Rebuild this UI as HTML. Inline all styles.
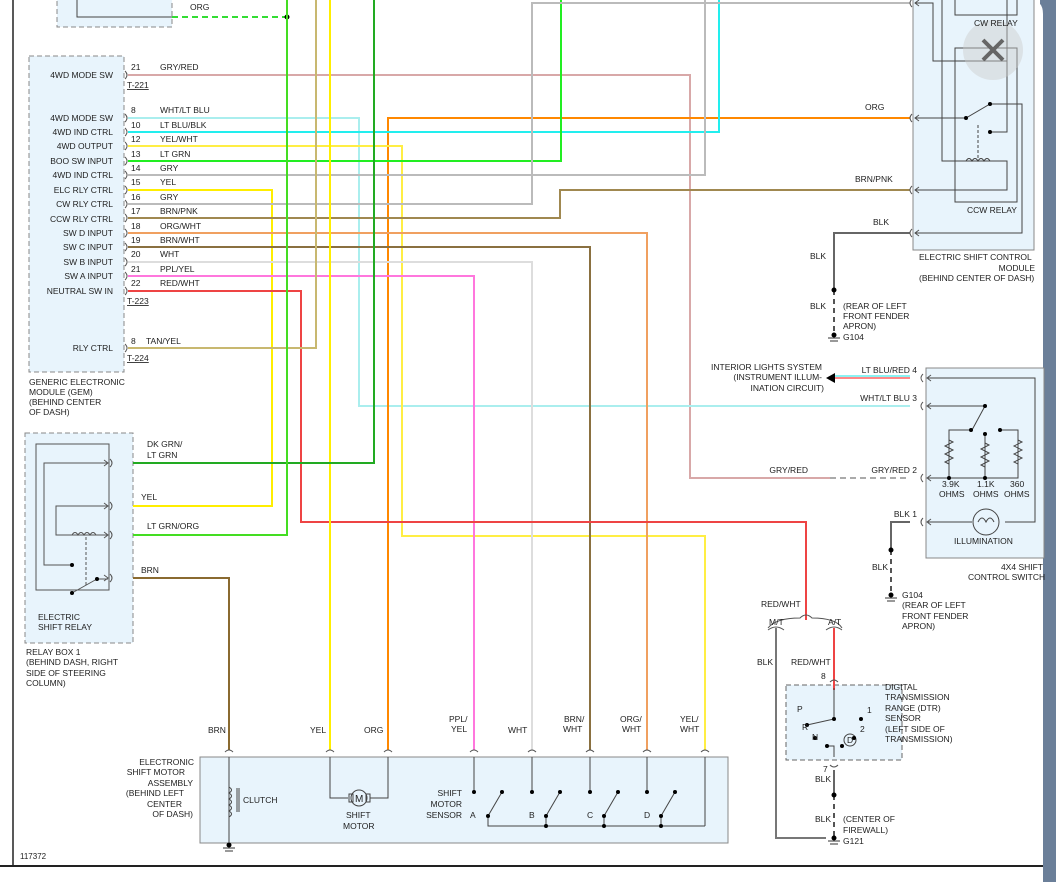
<!DOCTYPE html>
<html><head><meta charset="utf-8"><style>
html,body{margin:0;padding:0;background:#fff;}
svg{display:block;font-family:"Liberation Sans",sans-serif;font-size:8.5px;}
text{fill:#222;}
</style></head><body>
<svg width="1056" height="882" viewBox="0 0 1056 882" xmlns="http://www.w3.org/2000/svg">
<rect x="0" y="0" width="1056" height="882" fill="#fff"/>
<rect x="1040" y="0" width="16" height="882" fill="#6b7f99"/>
<path d="M1030 0 Q1043 0 1043 14 L1043 882 L1040 882 L1040 0Z" fill="#fff"/>
<line x1="13" y1="0" x2="13" y2="866" stroke="#222" stroke-width="1.5"/>
<line x1="0" y1="866" x2="1043" y2="866" stroke="#222" stroke-width="2"/>

<rect x="57" y="-2" width="115" height="29" fill="#e8f4fc" stroke="#888" stroke-dasharray="5,3"/>
<polyline points="77,-2 77,17 172,17" fill="none" stroke="#444"/>
<rect x="29" y="56" width="95" height="316" fill="#e8f4fc" stroke="#888" stroke-dasharray="5,3"/>
<rect x="25" y="433" width="108" height="210" fill="#e8f4fc" stroke="#888" stroke-dasharray="5,3"/>
<rect x="36" y="444" width="73" height="146" fill="none" stroke="#555"/>
<rect x="913" y="-2" width="121" height="252" fill="#e8f4fc" stroke="#888"/>
<rect x="926" y="368" width="118" height="190" fill="#e8f4fc" stroke="#888"/>
<rect x="200" y="757" width="528" height="86" fill="#e8f4fc" stroke="#888"/>
<rect x="786" y="685" width="116" height="75" fill="#e8f4fc" stroke="#666" stroke-dasharray="5,3"/>

<line x1="172" y1="17" x2="287" y2="17" stroke="#33dd33" stroke-width="2" stroke-dasharray="6,4"/>
<circle cx="287" cy="17" r="2.5" fill="#000"/>

<g fill="none" stroke-width="2">
<polyline points="128,75 690,75 690,478 830,478" stroke="#d8a8a8"/>
<line x1="830" y1="478" x2="910" y2="478" stroke="#aaa" stroke-dasharray="6,4"/>
<polyline points="128,118 359,118 359,406 910,406" stroke="#aaeeee"/>
<polyline points="388,750 388,118 910,118" stroke="#ff8800"/>
<polyline points="128,132 719,132 719,0" stroke="#22eeee"/>
<polyline points="128,146 402,146 402,536 705,536 705,750" stroke="#ffee44"/>
<polyline points="128,161 561,161 561,0" stroke="#22ee22"/>
<polyline points="128,175 705,175 705,0" stroke="#bbb"/>
<polyline points="128,190 272,190 272,506 133,506" stroke="#ffee00"/>
<polyline points="128,204 532,204 532,3 910,3" stroke="#bbb"/>
<polyline points="128,218 560,218 560,190 910,190" stroke="#a08850"/>
<polyline points="128,233 647,233 647,750" stroke="#f0a060"/>
<polyline points="128,247 590,247 590,750" stroke="#8a7040"/>
<polyline points="128,262 532,262 532,750" stroke="#dddddd"/>
<polyline points="128,276 474,276 474,750" stroke="#ff77dd"/>
<polyline points="128,291 301,291 301,522 806,522 806,620" stroke="#ee4444"/>
<polyline points="128,348 316,348 316,0" stroke="#c8b870"/>
<line x1="330" y1="0" x2="330" y2="750" stroke="#ffee00"/>
<polyline points="133,463 374,463 374,0" stroke="#22aa22"/>
<polyline points="133,535 287,535 287,0" stroke="#44dd22"/>
<polyline points="133,578 229,578 229,750" stroke="#8a6a30"/>
<line x1="835" y1="378" x2="910" y2="378" stroke="#ff8888"/>
<line x1="835" y1="376" x2="910" y2="376" stroke="#66eeee" stroke-width="1.5"/>
<polyline points="910,233 834,233 834,290" stroke="#666"/>
<polyline points="910,522 891,522 891,550" stroke="#666"/>
<polyline points="834,628 834,690" stroke="#ee4444"/>
<polyline points="834,770 834,795" stroke="#666"/>
<polyline points="776,628 776,838 826,838" stroke="#777"/>
</g>
<g stroke="#555" stroke-width="2" stroke-dasharray="5,4" fill="none">
<line x1="834" y1="290" x2="834" y2="335"/>
<line x1="891" y1="550" x2="891" y2="595"/>
<line x1="834" y1="795" x2="834" y2="836"/>
</g>
<g fill="#000">
<circle cx="834" cy="290" r="2.5"/><circle cx="834" cy="335" r="2.5"/>
<circle cx="891" cy="550" r="2.5"/><circle cx="891" cy="595" r="2.5"/>
<circle cx="834" cy="795" r="2.5"/><circle cx="834" cy="838" r="2.5"/>
<circle cx="229" cy="845" r="2.5"/>
<path d="M826 378 L835 373 L835 383Z"/>
</g>
<g stroke="#333" stroke-width="1">
<line x1="828" y1="338" x2="840" y2="338"/><line x1="830" y1="341" x2="838" y2="341"/>
<line x1="885" y1="598" x2="897" y2="598"/><line x1="887" y1="601" x2="895" y2="601"/>
<line x1="828" y1="841" x2="840" y2="841"/><line x1="830" y1="844" x2="838" y2="844"/>
<line x1="223" y1="848" x2="235" y2="848"/><line x1="225" y1="851" x2="233" y2="851"/>
</g>

<path d="M768 628 Q776 618 800 618 Q806 612 812 618 Q836 618 842 628" fill="none" stroke="#555"/>
<path d="M768 630 Q776 624 784 630 M826 630 Q834 624 842 630" fill="none" stroke="#555"/>

<g fill="none" stroke="#555" stroke-width="1">
<path d="M125 71 q4 4 0 8 M125 114 q4 4 0 8 M125 128 q4 4 0 8 M125 142 q4 4 0 8 M125 157 q4 4 0 8 M125 171 q4 4 0 8 M125 186 q4 4 0 8 M125 200 q4 4 0 8 M125 214 q4 4 0 8 M125 229 q4 4 0 8 M125 243 q4 4 0 8 M125 258 q4 4 0 8 M125 272 q4 4 0 8 M125 287 q4 4 0 8 M125 344 q4 4 0 8"/>
<path d="M110 459 q4 4 0 8 M110 502 q4 4 0 8 M110 531 q4 4 0 8 M110 574 q4 4 0 8"/>
<path d="M104 460 l4 3 -4 3 M104 503 l4 3 -4 3 M104 532 l4 3 -4 3 M104 575 l4 3 -4 3"/>
<path d="M912 -1 q-4 4 0 8 M912 114 q-4 4 0 8 M912 186 q-4 4 0 8 M912 229 q-4 4 0 8"/>
<path d="M919 0 l-4 3 4 3 M919 115 l-4 3 4 3 M919 187 l-4 3 4 3 M919 230 l-4 3 4 3"/>
<path d="M923 374 q-4 4 0 8 M923 402 q-4 4 0 8 M923 474 q-4 4 0 8 M923 518 q-4 4 0 8"/>
<path d="M931 375 l-4 3 4 3 M931 403 l-4 3 4 3 M931 475 l-4 3 4 3 M931 519 l-4 3 4 3"/>
<path d="M225 752 q4 -4 8 0 M326 752 q4 -4 8 0 M384 752 q4 -4 8 0 M470 752 q4 -4 8 0 M528 752 q4 -4 8 0 M586 752 q4 -4 8 0 M643 752 q4 -4 8 0 M701 752 q4 -4 8 0"/>
<path d="M830 682 q4 -4 8 0 M830 765 q4 4 8 0"/>
</g>
<g fill="none" stroke="#555" stroke-width="1">
<polyline points="108,463 44,463 44,565 72,565"/>
<polyline points="108,506 56,506 56,535 108,535"/>
<path d="M72 535 q3 -5 6 0 q3 -5 6 0 q3 -5 6 0 q3 -5 6 0"/>
<line x1="86" y1="537" x2="86" y2="585" stroke-dasharray="3,2"/>
<line x1="72" y1="593" x2="97" y2="579"/><line x1="97" y1="579" x2="108" y2="579"/>
</g>
<circle cx="72" cy="565" r="2" fill="#000"/><circle cx="72" cy="593" r="2" fill="#000"/><circle cx="97" cy="579" r="2" fill="#000"/>
<g fill="none" stroke="#444" stroke-width="1">
<polyline points="915,3 933,3 933,61 1007,61"/>
<rect x="955" y="-2" width="62" height="17"/>
<rect x="955" y="48" width="62" height="154"/>
<polyline points="915,118 966,118 990,104 1022,104 1022,233 915,233"/>
<polyline points="990,132 1007,132 1007,0"/>
<polyline points="942,0 942,161 1007,161 1007,190 915,190"/>
<path d="M966 161 q3 -5 6 0 q3 -5 6 0 q3 -5 6 0 q3 -5 6 0"/>
<line x1="978" y1="125" x2="978" y2="158" stroke-dasharray="3,2"/>
</g>
<circle cx="966" cy="118" r="2" fill="#000"/><circle cx="990" cy="104" r="2" fill="#000"/><circle cx="990" cy="132" r="2" fill="#000"/>
<circle cx="993" cy="50" r="30" fill="#ccc" opacity="0.45"/>
<path d="M983 40 L1003 60 M1003 40 L983 60" stroke="#666" stroke-width="4"/>
<g fill="none" stroke="#444" stroke-width="1">
<polyline points="928,378 1035,378 1035,522 1005,522"/>
<polyline points="928,406 985,406 972,430"/>
<polyline points="928,478 1018,478 1018,430 1000,430"/>
<polyline points="971,430 949,430 949,478"/>
<line x1="985" y1="433" x2="985" y2="478"/>
<path d="M949 440 l4 2 -8 4 8 4 -8 4 8 4 -8 4 4 2 M985 443 l4 2 -8 4 8 4 -8 4 8 4 -8 4 4 2 M1018 440 l4 2 -8 4 8 4 -8 4 8 4 -8 4 4 2"/>
<line x1="928" y1="522" x2="972" y2="522"/>
<circle cx="986" cy="522" r="13"/>
<path d="M978 522 q4 -8 8 0 q4 -8 8 0"/>
</g>
<g fill="#000"><circle cx="985" cy="406" r="2"/><circle cx="971" cy="430" r="2"/><circle cx="985" cy="434" r="2"/><circle cx="1000" cy="430" r="2"/><circle cx="949" cy="478" r="2"/><circle cx="985" cy="478" r="2"/></g>
<g fill="none" stroke="#444" stroke-width="1">
<polyline points="834,688 834,719 807,725"/>
<polyline points="827,746 834,746 834,757"/>
<circle cx="850" cy="740" r="6"/>
</g>
<g fill="#000"><circle cx="834" cy="719" r="2"/><circle cx="807" cy="725" r="2"/><circle cx="815" cy="738" r="2"/><circle cx="827" cy="746" r="2"/><circle cx="842" cy="746" r="2"/><circle cx="854" cy="738" r="2"/><circle cx="861" cy="719" r="2"/></g>
<g fill="none" stroke="#444" stroke-width="1">
<line x1="229" y1="757" x2="229" y2="843"/>
<path d="M229 787 q5 3 0 6 q5 3 0 6 q5 3 0 6 q5 3 0 6 q5 3 0 6"/>
<line x1="237" y1="788" x2="237" y2="812"/><line x1="239" y1="788" x2="239" y2="812"/>
<polyline points="330,757 330,798 348,798"/><polyline points="370,798 388,798 388,757"/>
<circle cx="359" cy="798" r="8"/>
<rect x="349" y="794" width="4" height="8"/><rect x="366" y="794" width="4" height="8"/>
<line x1="474" y1="757" x2="474" y2="792"/><line x1="532" y1="757" x2="532" y2="792"/>
<line x1="590" y1="757" x2="590" y2="792"/><line x1="647" y1="757" x2="647" y2="792"/>
<line x1="705" y1="757" x2="705" y2="826"/>
<polyline points="488,816 488,826 705,826"/>
<line x1="488" y1="816" x2="502" y2="792"/><line x1="546" y1="816" x2="560" y2="792"/>
<line x1="604" y1="816" x2="618" y2="792"/><line x1="661" y1="816" x2="675" y2="792"/>
<line x1="546" y1="816" x2="546" y2="826"/><line x1="604" y1="816" x2="604" y2="826"/><line x1="661" y1="816" x2="661" y2="826"/>
</g>
<g fill="#000"><circle cx="474" cy="792" r="2"/><circle cx="532" cy="792" r="2"/><circle cx="590" cy="792" r="2"/><circle cx="647" cy="792" r="2"/>
<circle cx="488" cy="816" r="2"/><circle cx="502" cy="792" r="2"/><circle cx="546" cy="816" r="2"/><circle cx="560" cy="792" r="2"/><circle cx="604" cy="816" r="2"/><circle cx="618" cy="792" r="2"/><circle cx="661" cy="816" r="2"/><circle cx="675" cy="792" r="2"/>
<circle cx="546" cy="826" r="2"/><circle cx="604" cy="826" r="2"/><circle cx="661" cy="826" r="2"/></g>

<g>
<text x="190" y="10">ORG</text>
<g text-anchor="end">
<text x="113" y="78">4WD MODE SW</text>
<text x="113" y="121">4WD MODE SW</text>
<text x="113" y="135">4WD IND CTRL</text>
<text x="113" y="149">4WD OUTPUT</text>
<text x="113" y="164">BOO SW INPUT</text>
<text x="113" y="178">4WD IND CTRL</text>
<text x="113" y="193">ELC RLY CTRL</text>
<text x="113" y="207">CW RLY CTRL</text>
<text x="113" y="222">CCW RLY CTRL</text>
<text x="113" y="236">SW D INPUT</text>
<text x="113" y="250">SW C INPUT</text>
<text x="113" y="265">SW B INPUT</text>
<text x="113" y="279">SW A INPUT</text>
<text x="113" y="294">NEUTRAL SW IN</text>
<text x="113" y="351">RLY CTRL</text>
</g>
<text x="131" y="70">21</text><text x="160" y="70">GRY/RED</text>
<text x="127" y="88" text-decoration="underline">T-221</text>
<text x="131" y="113">8</text><text x="160" y="113">WHT/LT BLU</text>
<text x="131" y="128">10</text><text x="160" y="128">LT BLU/BLK</text>
<text x="131" y="142">12</text><text x="160" y="142">YEL/WHT</text>
<text x="131" y="157">13</text><text x="160" y="157">LT GRN</text>
<text x="131" y="171">14</text><text x="160" y="171">GRY</text>
<text x="131" y="185">15</text><text x="160" y="185">YEL</text>
<text x="131" y="200">16</text><text x="160" y="200">GRY</text>
<text x="131" y="214">17</text><text x="160" y="214">BRN/PNK</text>
<text x="131" y="229">18</text><text x="160" y="229">ORG/WHT</text>
<text x="131" y="243">19</text><text x="160" y="243">BRN/WHT</text>
<text x="131" y="257">20</text><text x="160" y="257">WHT</text>
<text x="131" y="272">21</text><text x="160" y="272">PPL/YEL</text>
<text x="131" y="286">22</text><text x="160" y="286">RED/WHT</text>
<text x="127" y="304" text-decoration="underline">T-223</text>
<text x="131" y="344">8</text><text x="146" y="344">TAN/YEL</text>
<text x="127" y="361" text-decoration="underline">T-224</text>
<text x="29" y="385">GENERIC ELECTRONIC</text>
<text x="29" y="395">MODULE (GEM)</text>
<text x="29" y="405">(BEHIND CENTER</text>
<text x="29" y="415">OF DASH)</text>
<text x="147" y="447">DK GRN/</text><text x="147" y="458">LT GRN</text>
<text x="141" y="500">YEL</text>
<text x="147" y="529">LT GRN/ORG</text>
<text x="141" y="573">BRN</text>
<text x="38" y="620">ELECTRIC</text><text x="38" y="630">SHIFT RELAY</text>
<text x="26" y="655">RELAY BOX 1</text>
<text x="26" y="665">(BEHIND DASH, RIGHT</text>
<text x="26" y="676">SIDE OF STEERING</text>
<text x="26" y="686">COLUMN)</text>
<text x="974" y="26">CW RELAY</text>
<text x="865" y="110">ORG</text>
<text x="855" y="182">BRN/PNK</text>
<text x="873" y="225">BLK</text>
<text x="967" y="213">CCW RELAY</text>
<text x="919" y="260">ELECTRIC SHIFT CONTROL</text>
<text x="1035" y="271" text-anchor="end">MODULE</text>
<text x="919" y="281">(BEHIND CENTER OF DASH)</text>
<text x="810" y="259">BLK</text>
<text x="810" y="309">BLK</text>
<text x="843" y="309">(REAR OF LEFT</text>
<text x="843" y="319">FRONT FENDER</text>
<text x="843" y="329">APRON)</text>
<text x="843" y="340">G104</text>
<g text-anchor="end">
<text x="822" y="370">INTERIOR LIGHTS SYSTEM</text>
<text x="822" y="380">(INSTRUMENT ILLUM-</text>
<text x="824" y="391">INATION CIRCUIT)</text>
<text x="917" y="373">LT BLU/RED  4</text>
<text x="917" y="401">WHT/LT BLU  3</text>
<text x="917" y="473">GRY/RED  2</text>
<text x="808" y="473">GRY/RED</text>
<text x="917" y="517">BLK  1</text>
</g>
<text x="942" y="487">3.9K</text><text x="939" y="497">OHMS</text>
<text x="977" y="487">1.1K</text><text x="973" y="497">OHMS</text>
<text x="1010" y="487">360</text><text x="1004" y="497">OHMS</text>
<text x="954" y="544">ILLUMINATION</text>
<text x="1043" y="570" text-anchor="end">4X4 SHIFT</text>
<text x="968" y="580">CONTROL SWITCH</text>
<text x="872" y="570">BLK</text>
<text x="902" y="598">G104</text>
<text x="902" y="608">(REAR OF LEFT</text>
<text x="902" y="619">FRONT FENDER</text>
<text x="902" y="629">APRON)</text>
<text x="761" y="607">RED/WHT</text>
<text x="769" y="625">M/T</text><text x="828" y="625">A/T</text>
<text x="757" y="665">BLK</text>
<text x="791" y="665">RED/WHT</text>
<text x="821" y="679">8</text>
<text x="885" y="690">DIGITAL</text>
<text x="885" y="700">TRANSMISSION</text>
<text x="885" y="711">RANGE (DTR)</text>
<text x="885" y="721">SENSOR</text>
<text x="885" y="732">(LEFT SIDE OF</text>
<text x="885" y="742">TRANSMISSION)</text>
<text x="797" y="712">P</text><text x="802" y="730">R</text><text x="812" y="740">N</text>
<text x="867" y="713">1</text><text x="860" y="732">2</text><text x="847" y="743">D</text>
<text x="823" y="772">7</text>
<text x="815" y="782">BLK</text>
<text x="815" y="822">BLK</text>
<text x="843" y="822">(CENTER OF</text>
<text x="843" y="833">FIREWALL)</text>
<text x="843" y="844">G121</text>
<text x="208" y="733">BRN</text>
<text x="310" y="733">YEL</text>
<text x="364" y="733">ORG</text>
<text x="449" y="722">PPL/</text><text x="451" y="732">YEL</text>
<text x="508" y="733">WHT</text>
<text x="564" y="722">BRN/</text><text x="563" y="732">WHT</text>
<text x="620" y="722">ORG/</text><text x="622" y="732">WHT</text>
<text x="680" y="722">YEL/</text><text x="680" y="732">WHT</text>
<g text-anchor="end">
<text x="194" y="765">ELECTRONIC</text>
<text x="185" y="775">SHIFT MOTOR</text>
<text x="193" y="786">ASSEMBLY</text>
<text x="184" y="796">(BEHIND LEFT</text>
<text x="182" y="807">CENTER</text>
<text x="193" y="817">OF DASH)</text>
<text x="462" y="796">SHIFT</text>
<text x="462" y="807">MOTOR</text>
<text x="462" y="818">SENSOR</text>
</g>
<text x="243" y="803">CLUTCH</text>
<text x="346" y="818">SHIFT</text><text x="343" y="829">MOTOR</text>
<text x="355" y="802" font-size="10">M</text>
<text x="470" y="818">A</text><text x="529" y="818">B</text><text x="587" y="818">C</text><text x="644" y="818">D</text>
<text x="20" y="859" font-size="8">117372</text>
</g>
</svg>
</body></html>
